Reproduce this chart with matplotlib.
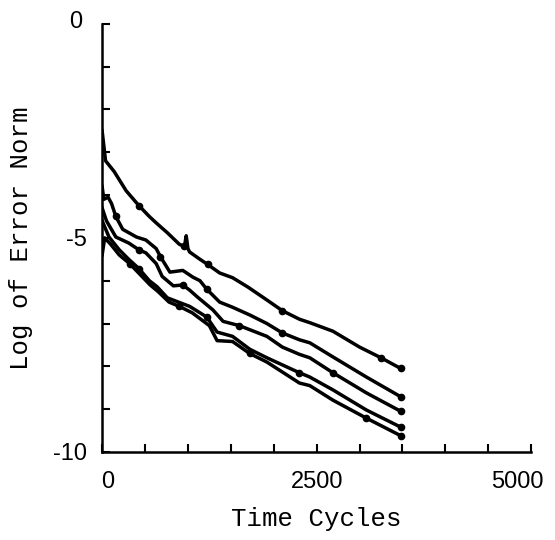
import matplotlib.pyplot as plt
from matplotlib.ticker import MultipleLocator
from matplotlib.transforms import ScaledTranslation

# Кривые (время, log нормы ошибки)
x_a = [0, 40, 140, 280, 430, 550, 630, 760, 900, 960, 980, 1000, 1020, 1140, 1230, 1370,
       1520, 1700, 1920, 2100, 2300, 2420, 2690, 3000, 3250, 3480]
y_a = [-2.5, -3.2, -3.45, -3.9, -4.25, -4.5, -4.65, -4.88, -5.15, -5.2, -4.95, -5.25, -5.33,
       -5.5, -5.62, -5.82, -5.93, -6.15, -6.45, -6.7, -6.9, -6.98, -7.18, -7.55, -7.8, -8.05]

x_b = [0, 20, 70, 110, 160, 240, 400, 510, 630, 680, 790, 940, 1060, 1140, 1220, 1370,
       1520, 1720, 1920, 2100, 2300, 2420, 2690, 3080, 3480]
y_b = [-3.8, -4.1, -4.05, -4.2, -4.5, -4.8, -4.98, -5.05, -5.25, -5.44, -5.8, -5.76, -5.92,
       -6.0, -6.2, -6.5, -6.62, -6.8, -7.0, -7.22, -7.38, -7.45, -7.78, -8.25, -8.71]

x_c = [0, 50, 160, 310, 430, 510, 630, 700, 830, 940, 1020, 1110, 1290, 1410, 1600, 1920,
       2100, 2300, 2420, 2690, 3080, 3480]
y_c = [-4.3, -4.6, -4.98, -5.12, -5.28, -5.35, -5.6, -5.9, -6.12, -6.1, -6.22, -6.38, -6.68,
       -6.95, -7.05, -7.3, -7.55, -7.72, -7.8, -8.15, -8.62, -9.05]

x_d = [0, 80, 200, 310, 430, 550, 640, 760, 1020, 1220, 1340, 1520, 1720, 1920, 2300, 2420,
       2690, 3080, 3480]
y_d = [-4.6, -4.98, -5.28, -5.5, -5.72, -6.0, -6.14, -6.4, -6.6, -6.85, -7.2, -7.3, -7.6,
       -7.8, -8.15, -8.25, -8.55, -9.02, -9.42]

x_e = [0, 30, 100, 200, 320, 440, 560, 650, 780, 900, 1050, 1250, 1340, 1520, 1720, 1920,
       2300, 2420, 2690, 3080, 3480]
y_e = [-5.4, -5.0, -5.15, -5.4, -5.6, -5.85, -6.1, -6.25, -6.5, -6.6, -6.75, -7.05, -7.4,
       -7.42, -7.7, -7.9, -8.39, -8.45, -8.79, -9.21, -9.62]

curves = [(x_a, y_a), (x_b, y_b), (x_c, y_c), (x_d, y_d), (x_e, y_e)]

fig = plt.figure(figsize=(5.55, 5.4), dpi=100)
ax = fig.add_axes([0.184, 0.163, 0.773, 0.793])

for xs, ys in curves:
    ax.plot(xs, ys, color='black', lw=2.5, marker='o', ms=4.5,
            markevery=[len(xs) - 1] + list(range(4, len(xs) - 1, 5)))

ax.set_xlim(0, 5000)
ax.set_ylim(-10, 0)

ax.spines['top'].set_visible(False)
ax.spines['right'].set_visible(False)
ax.spines['left'].set_linewidth(1.8)
ax.spines['bottom'].set_linewidth(1.8)

ax.xaxis.set_major_locator(MultipleLocator(2500))
ax.xaxis.set_minor_locator(MultipleLocator(500))
ax.yaxis.set_major_locator(MultipleLocator(5))
ax.yaxis.set_minor_locator(MultipleLocator(1))
ax.tick_params(which='both', direction='in', width=1.5, length=6)
ax.tick_params(axis='x', pad=14)
ax.tick_params(axis='y', pad=11)

ax.set_yticks([0, -5, -10])
ax.set_yticklabels(['0', '-5', '-10'], family='Liberation Sans', fontsize=17)
ax.set_xticks([0, 2500, 5000])
ax.set_xticklabels(['0', '2500', '5000'], family='Liberation Sans', fontsize=17)

# сдвиги подписей, как на оригинале
xl = ax.get_xticklabels()
xl[0].set_transform(xl[0].get_transform() + ScaledTranslation(0.06, 0, fig.dpi_scale_trans))
xl[2].set_transform(xl[2].get_transform() + ScaledTranslation(-0.14, 0, fig.dpi_scale_trans))
yl = ax.get_yticklabels()
yl[0].set_transform(yl[0].get_transform() + ScaledTranslation(-0.05, 0.04, fig.dpi_scale_trans))

ax.set_xlabel('Time Cycles', family='Liberation Mono', fontsize=18.5, labelpad=10)
ax.set_ylabel('Log of Error Norm', family='Liberation Mono', fontsize=18.5, labelpad=14)

fig.savefig('out.png', dpi=100)
